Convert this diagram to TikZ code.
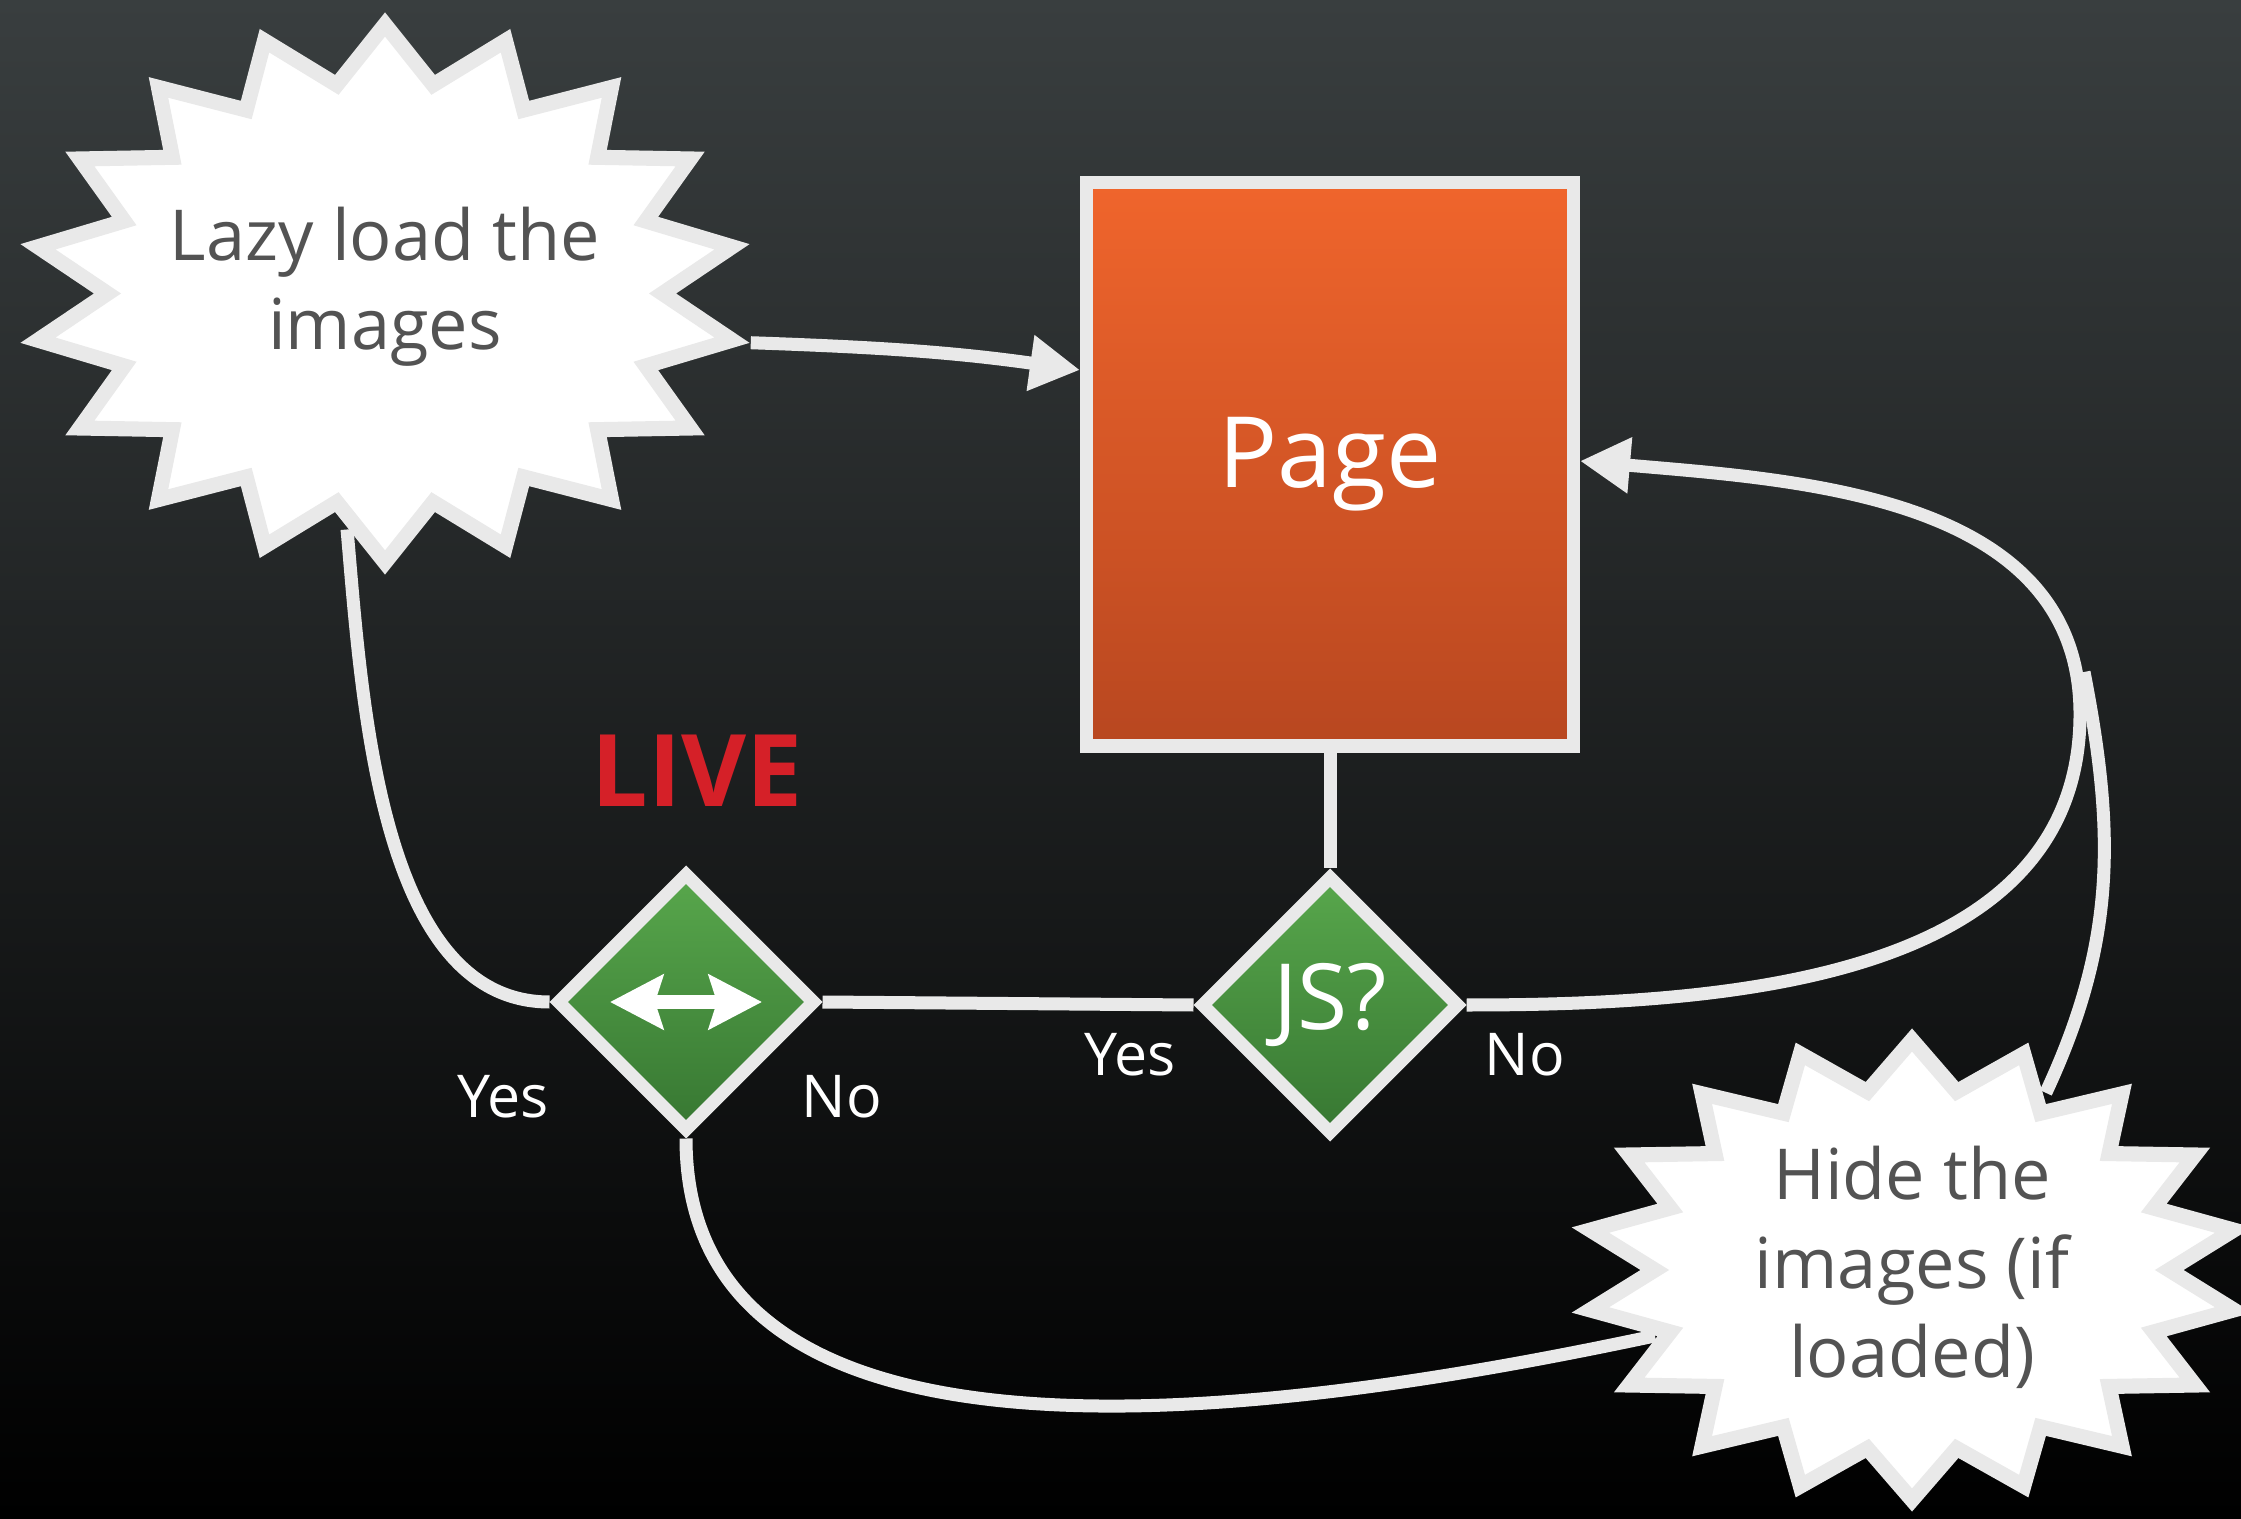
\documentclass[tikz,border=0pt]{standalone}
\usepackage{fontspec}
\setmainfont{Open Sans}
\usetikzlibrary{shapes.geometric,arrows.meta}
\pgfdeclarelayer{background}
\pgfsetlayers{background,main}
\definecolor{bgtop}{RGB}{57,62,63}
\definecolor{bgbot}{RGB}{0,0,0}
\definecolor{edge}{RGB}{233,233,233}
\definecolor{inkgray}{RGB}{83,83,83}
\definecolor{pagetop}{RGB}{240,101,44}
\definecolor{pagebot}{RGB}{184,71,32}
\definecolor{greentop}{RGB}{88,167,76}
\definecolor{greenbot}{RGB}{55,119,50}
\definecolor{livered}{RGB}{213,32,40}
\tikzset{
  burst/.style={star,star points=18,star point ratio=1.27,inner sep=0pt,draw=edge,fill=white,line width=4.3pt,transform shape},
  bursttext/.style={align=center,text=inkgray,font=\fontsize{20}{25.3}\selectfont},
  decision/.style={diamond,aspect=1,minimum size=2.6cm,inner sep=0pt,draw=edge,line width=3.7pt,top color=greentop,bottom color=greenbot,text=white},
  answer/.style={text=white,font=\fontsize{16.8}{20}\selectfont},
  conn/.style={draw=edge,line width=3.7pt},
  arrowin/.style={-{Triangle[length=0.5cm,width=0.53cm]}},
}
\begin{document}
\begin{tikzpicture}
\begin{pgfonlayer}{background}
\shade[top color=bgtop,bottom color=bgbot] (0,0) rectangle (22.41,15.18);
\end{pgfonlayer}
\useasboundingbox (0,0) rectangle (22.41,15.18);

% the two bursts
\begin{scope}[shift={(3.85,12.245)},xscale=1.31]
\node[burst,minimum size=5.38cm] (lazy) {};
\end{scope}
\node[bursttext] (lazytext) at (3.85,12.31) {Lazy load the\\images};
\begin{scope}[shift={(19.12,2.48)},xscale=1.42]
\node[burst,minimum size=4.6cm] (hide) {};
\end{scope}
\node[bursttext] (hidetext) at (19.12,2.51) {Hide the\\images (if\\loaded)};

% page and decisions
\node[draw=edge,line width=3.7pt,top color=pagetop,bottom color=pagebot,minimum width=4.87cm,minimum height=5.63cm,text=white,font=\fontsize{28}{34}\selectfont] (page) at (13.30,10.535) {Page};
\node[decision] (live) at (6.86,5.16) {};
\draw[white,line width=3.9pt,{Stealth[length=0.53cm,width=0.54cm,inset=0.08cm]}-{Stealth[length=0.53cm,width=0.54cm,inset=0.08cm]}] ([xshift=-0.76cm]live.center) -- ([xshift=0.76cm]live.center);
\node[decision,font=\fontsize{26}{30}\selectfont] (js) at (13.30,5.13) {JS?};
\node[text=livered,font=\bfseries\fontsize{28.5}{34}\selectfont] (livetag) at (6.97,7.47) {LIVE};

\node[answer] (yeslive) at (5.03,4.21) {Yes};
\node[answer] (nolive) at (8.42,4.21) {No};
\node[answer] (yesjs) at (11.30,4.63) {Yes};
\node[answer] (nojs) at (15.25,4.63) {No};

% connectors
\coordinate (bend) at (20.80,8.04);
\coordinate (joint) at (20.84,8.46);
\begin{pgfonlayer}{background}
\draw[conn,arrowin] (lazy.-10) to[out=-2,in=172] ([yshift=0.945cm]page.west);
\draw[conn] (lazy.263) to[out=-85,in=180,looseness=0.85] (live.west);
\draw[conn] (live.east) -- (js.west);
\draw[conn] (page.south) -- (js.north);
\draw[conn,arrowin] (js.east) to[out=0,in=-90] (bend) to[out=90,in=-5] ([yshift=0.035cm]page.east);
\draw[conn] (hide.62) to[out=65,in=-79] (joint);
\draw[conn] (live.south) to[out=-90,in=192,looseness=0.95] (hide.200);
\end{pgfonlayer}
\end{tikzpicture}
\end{document}
